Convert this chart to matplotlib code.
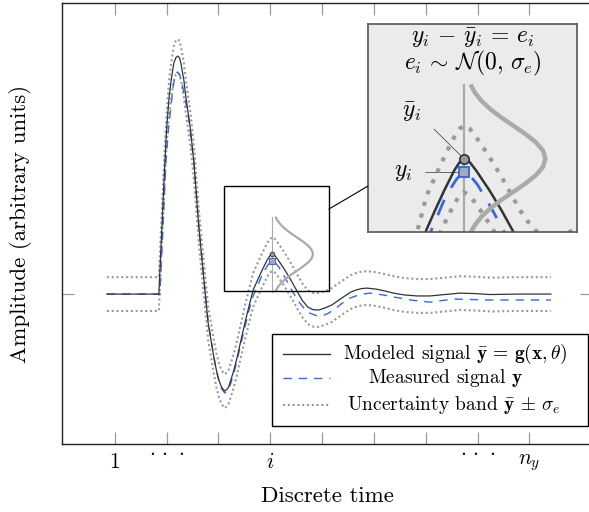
import numpy as np
import matplotlib
matplotlib.use("Agg")
import matplotlib.pyplot as plt
from matplotlib.patches import Rectangle, ConnectionPatch
from matplotlib.lines import Line2D
from matplotlib.transforms import ScaledTranslation

plt.rcParams['font.family'] = 'serif'
plt.rcParams['font.serif'] = ['cmr10']
plt.rcParams['mathtext.fontset'] = 'cm'
plt.rcParams['axes.unicode_minus'] = False
plt.rcParams['axes.formatter.use_mathtext'] = True

# ---- data ----
# modeled signal  y_bar = g(x, theta)
t_model = [0.846, 1.849, 1.965, 1.998, 2.023, 2.048, 2.087, 2.139, 2.18, 2.216,
           2.25, 2.274, 2.332, 2.371, 2.415, 2.461, 2.525, 2.622, 2.757, 2.801,
           2.911, 2.96, 3.008, 3.06, 3.124, 3.19, 3.239, 3.30, 3.361, 3.43,
           3.510, 3.59, 3.670, 3.755, 3.844, 3.940, 3.99, 4.035, 4.09, 4.153,
           4.282, 4.398, 4.514, 4.62, 4.726, 4.83, 4.938, 5.06, 5.189, 5.31,
           5.44, 5.55, 5.653, 5.76, 5.865, 6.04, 6.212, 6.4, 6.598, 6.84,
           7.081, 7.37, 7.66, 7.95, 8.239, 8.8, 9.417]
y_model = [0.0, 0.0, 0.550, 0.689, 0.761, 0.828, 0.899, 0.971, 0.994, 1.000,
           0.992, 0.971, 0.899, 0.828, 0.761, 0.689, 0.555, 0.282, -0.025, -0.122,
           -0.265, -0.320, -0.361, -0.392, -0.408, -0.394, -0.361, -0.318, -0.265, -0.198,
           -0.122, -0.050, 0.017, 0.059, 0.101, 0.143, 0.160, 0.168, 0.161, 0.143,
           0.101, 0.059, 0.013, -0.027, -0.055, -0.066, -0.067, -0.058, -0.046, -0.027,
           -0.008, 0.008, 0.017, 0.023, 0.025, 0.021, 0.013, 0.003, -0.004, -0.008,
           -0.008, -0.002, 0.004, 0.002, -0.002, 0.0, 0.0]

# measured signal y
t_meas = [0.846, 1.87, 1.984, 2.033, 2.075, 2.129, 2.17, 2.207, 2.245, 2.284,
          2.351, 2.429, 2.525, 2.622, 2.757, 2.805, 2.911, 2.96, 3.008, 3.06,
          3.124, 3.19, 3.239, 3.30, 3.361, 3.43, 3.510, 3.59, 3.670, 3.761,
          3.857, 3.954, 4.0, 4.035, 4.08, 4.166, 4.301, 4.436, 4.571, 4.67,
          4.764, 4.88, 4.996, 5.12, 5.247, 5.39, 5.537, 5.73, 5.923, 6.16,
          6.405, 6.74, 7.081, 7.32, 7.564, 7.9, 8.239, 9.417]
y_meas = [0.0, 0.0, 0.550, 0.689, 0.773, 0.878, 0.920, 0.933, 0.925, 0.899,
          0.828, 0.731, 0.555, 0.282, -0.025, -0.122, -0.265, -0.322, -0.366, -0.398,
          -0.416, -0.404, -0.374, -0.330, -0.277, -0.212, -0.139, -0.068, -0.008, 0.038,
          0.088, 0.122, 0.134, 0.139, 0.136, 0.113, 0.063, 0.008, -0.038, -0.065,
          -0.080, -0.090, -0.092, -0.081, -0.063, -0.038, -0.017, -0.002, 0.004, -0.003,
          -0.013, -0.026, -0.034, -0.027, -0.021, -0.023, -0.025, -0.025]

sigma_e = 0.071
x_i = 4.035
ybar_i = 0.168
y_i = 0.139

# error density drawn at sample i (offset from ybar_i, width along time)
pdf_dy = [-0.1575, -0.14, -0.1225, -0.105, -0.0875, -0.07, -0.0525, -0.035, -0.0175, 0.0,
          0.0175, 0.035, 0.0525, 0.07, 0.0875, 0.105, 0.1225, 0.14, 0.1575]
pdf_dx = [0.063, 0.107, 0.171, 0.257, 0.362, 0.480, 0.596, 0.697, 0.766, 0.79,
          0.766, 0.697, 0.596, 0.480, 0.362, 0.257, 0.171, 0.107, 0.063]

tick_pos = [1, 2, 3, 4, 5, 6, 7, 8, 9]
dots = r'$\cdot\,\cdot\,\cdot$'
tick_lab = ['$1$', dots, '', '$i$', '', '', '', dots, '$n_y$']

zoom_x = (3.104, 5.131)
zoom_y = (0.0126, 0.454)

# ---- derived ----
t_model = np.array(t_model)
y_model = np.array(y_model)
band_hi = y_model + sigma_e
band_lo = y_model - sigma_e
pdf_y = ybar_i + np.array(pdf_dy)
pdf_x = x_i + np.array(pdf_dx)

c_model = '#333333'
c_meas = '#3369e8'
c_band = '#9a9a9a'
c_pdf = '#aaaaaa'


def draw_signals(ax, s, dot_gap):
    ax.plot(t_model, band_hi, ls=(0, (1, dot_gap)), color=c_band, lw=1.5 * s)
    ax.plot(t_model, band_lo, ls=(0, (1, dot_gap)), color=c_band, lw=1.5 * s)
    ax.plot(t_meas, y_meas, ls=(0, (6, 5)), color=c_meas, lw=1.0 * s)
    ax.plot(t_model, y_model, color=c_model, lw=0.9 * s)
    ax.plot([x_i, x_i], [pdf_y[0], pdf_y[-1]], color=c_pdf, lw=0.8 * s, zorder=1)
    ax.plot(pdf_x, pdf_y, color=c_pdf, lw=1.6 * s, solid_capstyle='butt')
    ax.plot([x_i], [y_i], 's', ms=3.8 * s, mfc='#aaaaaa', mec=c_meas, mew=0.7 * s)
    ax.plot([x_i], [ybar_i], 'o', ms=3.4 * s, mfc='#999999', mec=c_model, mew=0.6 * s)


fig = plt.figure(figsize=(5.89, 5.12), dpi=100)
ax = fig.add_axes([62 / 589, 1 - 444 / 512, 530 / 589, 441 / 512])
draw_signals(ax, 1.0, 1.3)
ax.set_xlim(-0.02, 10.21)
ax.set_ylim(-0.63, 1.223)
ax.set_xticks(tick_pos)
ax.set_xticklabels(tick_lab, fontsize=15.5)
ax.set_yticks([0])
ax.set_yticklabels([''])
ax.tick_params(direction='in', length=8.5, width=0.9, color='#9a9a9a',
               top=True, right=True, pad=6)
for lab in ax.get_xticklabels():
    if 'cdot' in lab.get_text():
        lab.set_transform(lab.get_transform() + ScaledTranslation(0, 7.5 / 72, fig.dpi_scale_trans))
for sp in ax.spines.values():
    sp.set_color('#222222')
    sp.set_linewidth(1.0)
ax.set_xlabel('Discrete time', fontsize=16.5, va='center')
ax.xaxis.set_label_coords(0.5, -0.118)
ax.set_ylabel('Amplitude (arbitrary units)', fontsize=16.5, va='center')
ax.yaxis.set_label_coords(-0.079, 0.5)

# zoom box in the main axes
ax.add_patch(Rectangle((zoom_x[0], zoom_y[0]), zoom_x[1] - zoom_x[0], zoom_y[1] - zoom_y[0],
                       fill=False, ec='black', lw=1.0, zorder=5))

# legend (entries centred like the original)
ax.add_patch(Rectangle((0.3962, 0.0408), 0.5963, 0.2086, transform=ax.transAxes,
                       fc='white', ec='black', lw=1.0, zorder=6))
rows = [0.2041, 0.1497, 0.0884]
ax.add_line(Line2D([0.417, 0.5057], [rows[0]] * 2, transform=ax.transAxes,
                   color=c_model, lw=1.0, zorder=7))
ax.add_line(Line2D([0.417, 0.5057], [rows[1]] * 2, transform=ax.transAxes,
                   color=c_meas, lw=1.0, ls=(0, (6, 5)), zorder=7))
ax.add_line(Line2D([0.417, 0.5057], [rows[2]] * 2, transform=ax.transAxes,
                   color=c_band, lw=1.5, ls=(0, (1, 1.3)), zorder=7))
leg_txt = [r'Modeled signal $\bar{\mathbf{y}} \,=\, \mathbf{g}(\mathbf{x}, \theta)$',
           r'Measured signal $\mathbf{y}$',
           r'Uncertainty band $\bar{\mathbf{y}} \,\pm\, \sigma_e$']
leg_cx = [0.7415, 0.7236, 0.739]
for txt, cx, r in zip(leg_txt, leg_cx, rows):
    ax.text(cx, r, txt, transform=ax.transAxes, ha='center', va='center',
            fontsize=14, zorder=7)

# inset
axi = fig.add_axes([368 / 589, 1 - 232 / 512, 209 / 589, 208 / 512])
axi.set_facecolor('#ebebeb')
draw_signals(axi, 2.0, 1.9)
axi.set_xlim(*zoom_x)
axi.set_ylim(*zoom_y)
axi.set_xticks([])
axi.set_yticks([])
for sp in axi.spines.values():
    sp.set_color('#555555')
    sp.set_linewidth(1.2)
axi.text(0.5, 0.934, r'$y_i \,-\, \bar{y}_i \,=\, e_i$', transform=axi.transAxes,
         ha='center', va='center', fontsize=17)
axi.text(0.5, 0.812, r'$e_i \,\sim\, \mathcal{N}(0,\, \sigma_e)$', transform=axi.transAxes,
         ha='center', va='center', fontsize=17)
axi.plot([3.744, x_i], [0.231, ybar_i], color='#333333', lw=0.5, zorder=1)
axi.plot([3.657, 3.996], [y_i, y_i], color='#333333', lw=0.5, zorder=1)
axi.text(3.528, 0.268, r'$\bar{y}_i$', ha='center', va='center', fontsize=17)
axi.text(3.443, 0.140, r'$y_i$', ha='center', va='center', fontsize=17)

con = ConnectionPatch(xyA=(zoom_x[1], 0.357), coordsA=ax.transData,
                      xyB=(0.0, 0.221), coordsB=axi.transAxes,
                      color='black', lw=0.8)
fig.add_artist(con)

fig.savefig('out.png', dpi=100)
